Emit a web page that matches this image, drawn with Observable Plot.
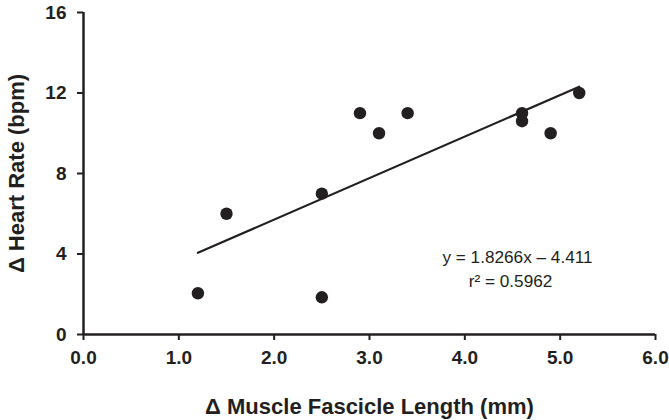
<!DOCTYPE html>
<html>
<head>
<meta charset="utf-8">
<script src="https://cdn.jsdelivr.net/npm/d3@7"></script>
<script src="https://cdn.jsdelivr.net/npm/@observablehq/plot@0.6"></script>
<style>
  html, body { margin: 0; padding: 0; background: #fff; }
  #chart { width: 669px; height: 420px; }
</style>
</head>
<body>
<div id="chart"></div>
<script>
// Data
const fascicleLength = [1.2, 1.5, 2.5, 2.5, 2.9, 3.1, 3.4, 4.6, 4.6, 4.9, 5.2];
const heartRate      = [2.05, 6.0, 7.0, 1.85, 11.0, 10.0, 11.0, 11.0, 10.6, 10.0, 12.0];
const xTicks = [0, 1, 2, 3, 4, 5, 6];
const yTicks = [0, 4, 8, 12, 16];
const xTitle = "Δ Muscle Fascicle Length (mm)";
const yTitle = "Δ Heart Rate (bpm)";
const equationText = "y = 1.8266x – 4.411";
const r2Text = "r² = 0.5962";

const points = fascicleLength.map((x, i) => ({x, y: heartRate[i]}));
const ink = "#231f20";
const font = "Liberation Sans, Arial, Helvetica, sans-serif";

const chart = Plot.plot({
  width: 669,
  height: 420,
  marginLeft: 83,
  marginRight: 14,
  marginTop: 12,
  marginBottom: 86,
  style: {fontFamily: font, color: ink, background: "#fff"},
  x: {domain: [0, 6]},
  y: {domain: [0, 16]},
  marks: [
    Plot.axisX(xTicks, {
      tickSize: 6, tickPadding: 10, tickFormat: d3.format(".1f"),
      fontSize: 19, fontWeight: "bold", stroke: ink, strokeWidth: 2, fill: ink, label: null
    }),
    Plot.axisY(yTicks, {
      tickSize: 6, tickPadding: 11,
      fontSize: 19, fontWeight: "bold", stroke: ink, strokeWidth: 2, fill: ink, label: null
    }),
    Plot.ruleY([0], {stroke: ink, strokeWidth: 2.5}),
    Plot.ruleX([0], {stroke: ink, strokeWidth: 2.5}),
    Plot.linearRegressionY(points, {x: "x", y: "y", stroke: ink, strokeWidth: 2.2, ci: 0}),
    Plot.dot(points, {x: "x", y: "y", r: 6.2, fill: ink, stroke: "none"}),
    Plot.text([xTitle], {
      frameAnchor: "bottom", dy: 72, textAnchor: "middle", fontSize: 22, fontWeight: "bold", fill: ink, lineAnchor: "middle"
    }),
    Plot.text([yTitle], {
      frameAnchor: "left", dx: -67, rotate: -90, textAnchor: "middle", fontSize: 22, fontWeight: "bold", fill: ink, lineAnchor: "middle"
    }),
    Plot.text([equationText], {
      frameAnchor: "bottom-right", dx: -138, dy: -77, textAnchor: "middle", lineAnchor: "middle",
      fontSize: 17.2, fill: ink
    }),
    Plot.text([r2Text], {
      frameAnchor: "bottom-right", dx: -145, dy: -53, textAnchor: "middle", lineAnchor: "middle",
      fontSize: 17.2, fill: ink
    })
  ]
});
document.getElementById("chart").appendChild(chart);
</script>
</body>
</html>
